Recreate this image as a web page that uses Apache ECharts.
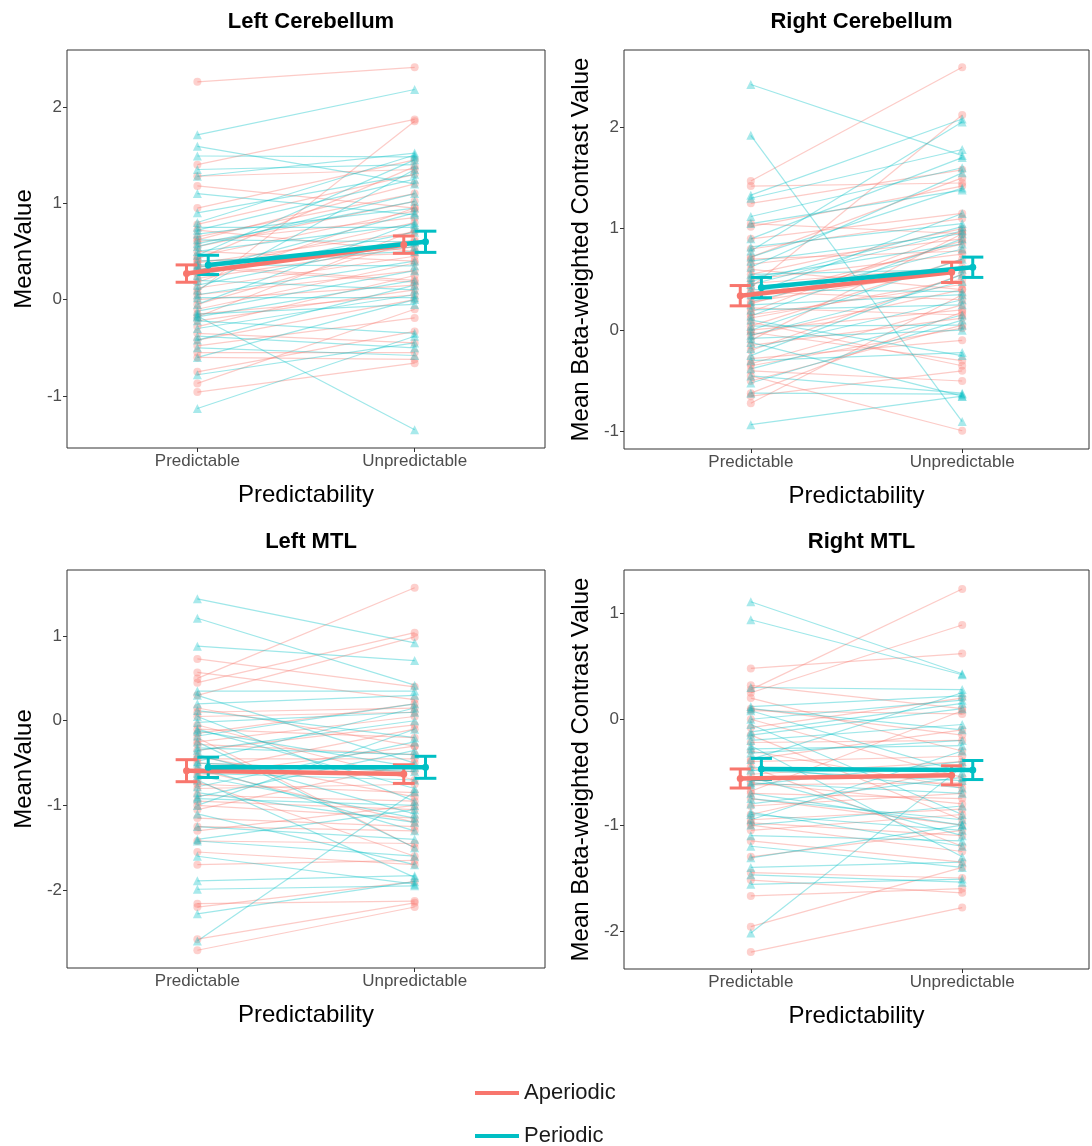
<!DOCTYPE html>
<html>
<head>
<meta charset="utf-8">
<title>Predictability by ROI</title>
<script src="https://cdn.jsdelivr.net/npm/echarts@6/dist/echarts.min.js"></script>
<style>
  html, body { margin: 0; padding: 0; background: #fff; }
  #main { width: 1092px; height: 1146px; }
</style>
</head>
<body>
<div id="main"></div>
<script>
// categories / groups
const categories = ['Predictable', 'Unpredictable'];
const groups = ['Aperiodic', 'Periodic'];
const panelTitles = ['Left Cerebellum', 'Right Cerebellum', 'Left MTL', 'Right MTL'];
const yNames = ['MeanValue', 'Mean Beta-weighted Contrast Value', 'MeanValue', 'Mean Beta-weighted Contrast Value'];

// y tick labels per panel
const yTicksLC = [-1, 0, 1, 2];
const yTicksRC = [-1, 0, 1, 2];
const yTicksLM = [-2, -1, 0, 1];
const yTicksRM = [-2, -1, 0, 1];

// ---- Left Cerebellum : subject values (predictable / unpredictable)
const lcAperPred   = [2.26, 1.40, 1.28, 1.18, 0.95, 0.78, 0.72, 0.65, 0.60, 0.55, 0.50, 0.45, 0.42, 0.38, 0.35, 0.30, 0.27, 0.22, 0.18, 0.12, 0.08, 0.05, 0.00, -0.05, -0.10, -0.15, -0.18, -0.22, -0.28, -0.35, -0.42, -0.48, -0.55, -0.60, -0.75, -0.87, -0.96, 0.62, 0.40, 0.33];
const lcAperUnpred = [2.41, 1.87, 1.35, 0.95, 1.45, 1.30, 0.50, 1.10, 0.85, 1.02, 0.40, 0.92, 1.38, 0.70, 0.20, 0.80, 0.62, 0.55, 0.95, 0.45, 1.85, 0.30, 0.15, 0.60, 0.38, 0.05, 0.72, 0.10, 0.25, -0.45, 0.00, -0.19, -0.55, -0.62, -0.33, -0.10, -0.66, 1.20, 0.48, 0.18];
const lcPerPred    = [1.71, 1.59, 1.49, 1.35, 1.28, 1.10, 0.90, 0.80, 0.72, 0.68, 0.62, 0.55, 0.50, 0.46, 0.40, 0.36, 0.30, 0.25, 0.20, 0.15, 0.10, 0.05, 0.02, -0.05, -0.12, -0.18, -0.22, -0.30, -0.38, -0.42, -0.50, -0.60, -0.78, -1.13, 0.58, 0.34, -0.15, 0.75, -0.17];
const lcPerUnpred  = [2.18, 1.20, 1.48, 1.40, 1.52, 0.88, 1.30, 1.50, 1.25, 0.95, 0.60, 1.10, 0.78, 1.45, 0.50, 0.35, 0.90, 0.70, 0.10, 0.60, 1.35, 0.40, 0.02, 0.80, 0.30, 0.20, -0.35, 0.05, -0.50, 0.15, -0.58, 0.00, -0.45, -0.38, 1.02, 0.55, -0.05, 0.75, -1.35];
const lcAperMean = [0.27, 0.57];
const lcAperSe   = [0.09, 0.09];
const lcPerMean  = [0.36, 0.60];
const lcPerSe    = [0.10, 0.11];

// ---- Right Cerebellum
const rcAperPred   = [1.47, 1.42, 1.25, 1.05, 1.02, 0.80, 0.72, 0.65, 0.60, 0.55, 0.50, 0.42, 0.38, 0.33, 0.28, 0.22, 0.18, 0.12, 0.08, 0.04, 0.00, -0.05, -0.10, -0.15, -0.20, -0.28, -0.33, -0.40, -0.45, -0.50, -0.62, -0.65, -0.72, 0.90, 0.46, 0.26, -0.02, 0.70, 0.15, -0.35];
const rcAperUnpred = [2.59, 1.45, 1.58, 0.95, 1.42, 1.10, 1.50, 0.90, 0.40, 1.00, 0.75, 2.12, 0.30, 0.85, 0.60, 0.15, 0.98, 0.50, -0.35, 0.70, 0.20, 0.40, 0.95, 0.12, 0.55, -0.10, 0.25, -0.50, -0.99, 0.05, 0.18, -0.40, 0.35, 1.15, 0.62, 0.88, -0.30, 0.78, 0.45, 0.02];
const rcPerPred    = [2.42, 1.92, 1.33, 1.30, 1.12, 1.05, 0.82, 0.78, 0.68, 0.62, 0.55, 0.48, 0.40, 0.35, 0.28, 0.20, 0.14, 0.10, 0.04, 0.00, -0.05, -0.12, -0.18, -0.25, -0.30, -0.38, -0.45, -0.52, -0.62, -0.93, 0.72, 0.52, 0.25, -0.08, 0.90, 0.45];
const rcPerUnpred  = [1.72, -0.90, 2.08, 1.78, 1.60, 1.38, 1.05, 2.05, 0.95, 1.55, 0.60, 1.02, 0.38, 1.15, 0.80, 0.25, 0.90, -0.25, 0.05, 0.70, 0.48, -0.65, 0.30, 0.55, -0.22, 0.15, -0.62, 0.10, -0.63, -0.65, 1.40, 0.85, 0.35, 0.00, 1.70, 0.98];
const rcAperMean = [0.34, 0.57];
const rcAperSe   = [0.10, 0.10];
const rcPerMean  = [0.42, 0.62];
const rcPerSe    = [0.10, 0.10];

// ---- Left MTL
const lmAperPred   = [0.73, 0.57, 0.50, 0.45, 0.30, 0.15, 0.05, -0.05, -0.10, -0.20, -0.28, -0.35, -0.42, -0.50, -0.58, -0.65, -0.72, -0.80, -0.88, -0.95, -1.05, -1.15, -1.30, -1.42, -1.55, -1.70, -2.16, -2.20, -2.71, -2.58, -0.25, -0.60, -1.00, 0.10, -0.45, -1.25, -0.75, -0.15];
const lmAperUnpred = [0.40, 0.25, 1.57, 1.04, 0.99, -0.30, 0.10, -0.70, -0.20, -1.50, -0.40, -0.05, -0.90, -0.60, -1.20, -0.30, -1.60, -0.75, -0.95, -1.05, -0.50, -1.25, -1.00, -1.45, -1.70, -1.65, -2.13, -1.90, -2.20, -2.15, 0.05, -0.10, -1.15, 0.15, -0.45, -1.30, -0.85, 0.20];
const lmPerPred    = [1.44, 1.21, 0.88, 0.35, 0.30, 0.20, 0.05, -0.02, -0.10, -0.18, -0.25, -0.32, -0.40, -0.48, -0.55, -0.62, -0.70, -0.78, -0.85, -0.92, -1.00, -1.10, -1.25, -1.42, -1.60, -1.89, -1.99, -2.28, -2.60, -0.12, -0.50, -0.35, 0.12, -1.40, -0.65, -0.90];
const lmPerUnpred  = [0.92, 0.42, 0.71, 0.35, -0.50, 0.30, -0.95, 0.10, -0.80, 0.20, -1.50, -0.40, -1.10, 0.15, -1.30, -0.70, -1.85, -0.25, -1.20, -1.00, -0.10, -1.70, -1.40, -1.60, -1.93, -1.83, -1.95, -1.90, -0.84, -0.55, -0.60, 0.00, -0.20, -1.05, -1.15, -0.35];
const lmAperMean = [-0.59, -0.63];
const lmAperSe   = [0.13, 0.11];
const lmPerMean  = [-0.55, -0.55];
const lmPerSe    = [0.12, 0.13];

// ---- Right MTL
const rmAperPred   = [0.48, 0.32, 0.28, 0.25, 0.20, 0.08, 0.00, -0.08, -0.15, -0.22, -0.30, -0.38, -0.45, -0.52, -0.60, -0.68, -0.75, -0.82, -0.90, -0.98, -1.05, -1.15, -1.30, -1.45, -1.52, -1.67, -1.96, -2.20, -0.40, -0.62, -0.95, 0.10, -0.70, -1.00];
const rmAperUnpred = [0.62, 0.10, 1.23, 0.89, -0.30, 0.05, -0.55, 0.20, -0.95, -0.20, -0.65, -0.10, -1.20, -0.40, -0.80, 0.08, -1.00, -0.70, -0.45, -1.10, -0.90, -1.35, -1.05, -1.50, -1.64, -1.60, -1.40, -1.78, -0.35, -0.60, -0.85, -0.15, -0.75, -1.25];
const rmPerPred    = [1.11, 0.94, 0.30, 0.12, 0.08, 0.00, -0.05, -0.12, -0.20, -0.25, -0.32, -0.38, -0.45, -0.55, -0.62, -0.70, -0.80, -0.88, -0.95, -1.00, -1.10, -1.31, -1.40, -1.47, -1.56, -2.02, -0.28, -0.60, -0.15, 0.10, -0.75, -1.20, -0.48, -0.90];
const rmPerUnpred  = [0.43, 0.42, 0.28, 0.22, -0.50, 0.18, -0.90, 0.15, -0.05, -1.30, -0.20, 0.25, -0.65, -1.10, -0.40, -1.00, -0.55, -1.20, -0.30, -0.82, -1.15, -1.00, -1.35, -1.54, -1.51, -0.45, -0.25, -0.70, 0.10, -0.10, -0.95, -1.40, -0.58, -1.05];
const rmAperMean = [-0.56, -0.53];
const rmAperSe   = [0.09, 0.09];
const rmPerMean  = [-0.47, -0.48];
const rmPerSe    = [0.10, 0.09];

const colors = ['#F8766D', '#00BFC4'];
const symbols = ['circle', 'triangle'];
const font = 'Liberation Sans, Arial, Helvetica, sans-serif';

// panels in drawing order
const panels = [
  { pred: [lcAperPred, lcPerPred], unpred: [lcAperUnpred, lcPerUnpred], mean: [lcAperMean, lcPerMean], se: [lcAperSe, lcPerSe], ticks: yTicksLC, min: -1.54, max: 2.59 },
  { pred: [rcAperPred, rcPerPred], unpred: [rcAperUnpred, rcPerUnpred], mean: [rcAperMean, rcPerMean], se: [rcAperSe, rcPerSe], ticks: yTicksRC, min: -1.17, max: 2.76 },
  { pred: [lmAperPred, lmPerPred], unpred: [lmAperUnpred, lmPerUnpred], mean: [lmAperMean, lmPerMean], se: [lmAperSe, lmPerSe], ticks: yTicksLM, min: -2.92, max: 1.78 },
  { pred: [rmAperPred, rmPerPred], unpred: [rmAperUnpred, rmPerUnpred], mean: [rmAperMean, rmPerMean], se: [rmAperSe, rmPerSe], ticks: yTicksRM, min: -2.36, max: 1.41 }
];

// grid boxes (left, top, width, height)
const boxes = [
  [67, 50, 478, 398],
  [624, 50, 465, 399],
  [67, 570, 478, 398],
  [624, 570, 465, 399]
];

const grids = [], xAxes = [], yAxes = [], titles = [], series = [];

// error bar drawer
function errorBar(params, api) {
  const x = api.value(0);
  const lo = api.coord([x, api.value(1)]);
  const hi = api.coord([x, api.value(2)]);
  const half = api.size([0.05, 0])[0];
  const style = { stroke: api.visual('color'), lineWidth: 3 };
  return {
    type: 'group',
    children: [
      { type: 'line', shape: { x1: hi[0], y1: hi[1], x2: lo[0], y2: lo[1] }, style: style },
      { type: 'line', shape: { x1: hi[0] - half, y1: hi[1], x2: hi[0] + half, y2: hi[1] }, style: style },
      { type: 'line', shape: { x1: lo[0] - half, y1: lo[1], x2: lo[0] + half, y2: lo[1] }, style: style }
    ]
  };
}

panels.forEach(function (p, k) {
  const b = boxes[k];
  grids.push({ left: b[0], top: b[1], width: b[2], height: b[3], show: true, borderColor: '#333', borderWidth: 1, backgroundColor: '#fff' });
  titles.push({
    text: panelTitles[k], left: b[0] + b[2] / 2, top: b[1] - 44, textAlign: 'center',
    textStyle: { fontFamily: font, fontSize: 22, fontWeight: 'bold', color: '#000' }
  });
  xAxes.push({
    gridIndex: k, type: 'value', min: 0.4, max: 2.6,
    axisLine: { show: false, onZero: false }, splitLine: { show: false },
    axisTick: { show: true, customValues: [1, 2], length: 4, lineStyle: { color: '#333' } },
    axisLabel: { customValues: [1, 2], formatter: function (v) { return categories[Math.round(v) - 1]; }, color: '#4d4d4d', fontSize: 17, fontFamily: font, margin: 5 },
    name: 'Predictability', nameLocation: 'middle', nameGap: 35,
    nameTextStyle: { fontSize: 24, fontFamily: font, color: '#000' }
  });
  yAxes.push({
    gridIndex: k, type: 'value', min: p.min, max: p.max,
    axisLine: { show: false, onZero: false }, splitLine: { show: false },
    axisTick: { show: true, customValues: p.ticks, length: 4, lineStyle: { color: '#333' } },
    axisLabel: { customValues: p.ticks, color: '#4d4d4d', fontSize: 17, fontFamily: font, margin: 5 },
    name: yNames[k], nameLocation: 'middle', nameGap: 31,
    nameTextStyle: { fontSize: 24, fontFamily: font, color: '#000' }
  });

  // subject lines
  [0, 1].forEach(function (g) {
    p.pred[g].forEach(function (v, i) {
      series.push({
        type: 'line', xAxisIndex: k, yAxisIndex: k, silent: true,
        data: [[1, v], [2, p.unpred[g][i]]],
        symbol: symbols[g], symbolSize: g === 0 ? 8 : 9,
        lineStyle: { color: colors[g], width: 1.2, opacity: 0.38 },
        itemStyle: { color: colors[g], opacity: 0.34 },
        z: 2
      });
    });
  });

  // group means and error bars (dodged)
  [0, 1].forEach(function (g) {
    const dx = g === 0 ? -0.05 : 0.05;
    series.push({
      name: groups[g], type: 'line', xAxisIndex: k, yAxisIndex: k, silent: true,
      data: [[1 + dx, p.mean[g][0]], [2 + dx, p.mean[g][1]]],
      symbol: 'circle', symbolSize: 7,
      lineStyle: { color: colors[g], width: 4.5 },
      itemStyle: { color: colors[g] },
      z: 5
    });
    series.push({
      type: 'custom', xAxisIndex: k, yAxisIndex: k, silent: true,
      itemStyle: { color: colors[g] },
      renderItem: errorBar,
      data: [0, 1].map(function (c) {
        return [c + 1 + dx, p.mean[g][c] - p.se[g][c], p.mean[g][c] + p.se[g][c]];
      }),
      z: 5
    });
  });
});

// one legend block per group, stacked
const legends = groups.map(function (name, g) {
  return {
    data: [name], left: 470, top: 1077 + g * 43,
    icon: 'rect', itemWidth: 44, itemHeight: 4, itemGap: 12,
    textStyle: { fontSize: 22, fontFamily: font, color: '#1a1a1a' }
  };
});

const chart = echarts.init(document.getElementById('main'));
chart.setOption({
  animation: false,
  backgroundColor: '#fff',
  title: titles,
  grid: grids,
  xAxis: xAxes,
  yAxis: yAxes,
  legend: legends,
  series: series
});
window.addEventListener('resize', function () { chart.resize(); });
</script>
</body>
</html>
